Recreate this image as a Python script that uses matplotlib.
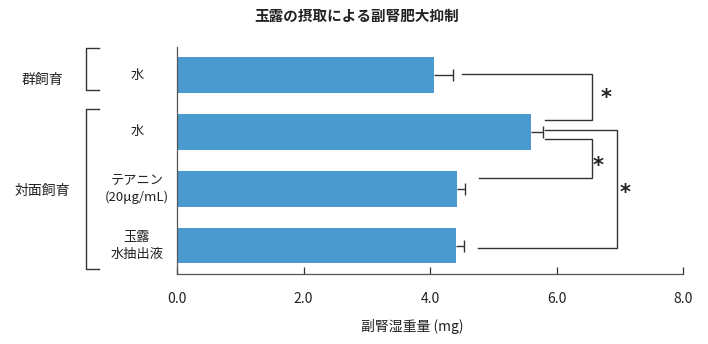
import matplotlib
matplotlib.use('Agg')
import matplotlib.pyplot as plt

plt.rcParams['font.family'] = ['Noto Sans CJK JP', 'DejaVu Sans']

# adrenal wet weight (mg), top to bottom
labels = ['水', '水', 'テアニン\n(20μg/mL)', '玉露\n水抽出液']
values = [4.07, 5.60, 4.42, 4.41]
errors = [0.29, 0.19, 0.13, 0.13]
xticks = [0.0, 2.0, 4.0, 6.0, 8.0]

bar_color = '#4a9ad0'
line_color = '#333333'

fig = plt.figure(figsize=(7.08, 3.44), dpi=100)
ax = fig.add_axes([0.25, 0.2035, 0.7147, 0.66])

ypos = list(range(len(values)))
ax.barh(ypos, values, height=0.63, color=bar_color)

# one-sided error bars with a cap at the end only
ends = [v + e for v, e in zip(values, errors)]
ax.hlines(ypos, values, ends, color=line_color, lw=1.0)
ax.plot(ends, ypos, ls='none', marker='|', ms=8, mew=1.0, color=line_color)

ax.set_xlim(0, 8)
ax.set_ylim(3.5, -0.5)
ax.set_xticks(xticks)
ax.set_xticklabels(['%.1f' % t for t in xticks], fontsize=10)
ax.tick_params(axis='x', direction='in', length=5, width=0.9, pad=13,
               colors=line_color, labelcolor='#222222')
ax.set_yticks([])
for s in ['top', 'right']:
    ax.spines[s].set_visible(False)
for s in ['left', 'bottom']:
    ax.spines[s].set_color('#555555')
    ax.spines[s].set_linewidth(0.9)

ax.set_xlabel('副腎湿重量 (mg)', fontsize=10, color='#222222')
ax.xaxis.set_label_coords((412 - 177) / 506, -0.20)

# significance brackets: (bar a, arm offset a, gap a, bar b, arm offset b, gap b, right x, star x, star y)
brackets = [
    (0, -0.03, 0.15, 1, -0.21, 0.03, 6.56, 6.78, 0.40),
    (1, 0.12, 0.03, 2, -0.19, 0.22, 6.56, 6.66, 1.60),
    (1, -0.04, 0.03, 3, 0.05, 0.22, 6.96, 7.08, 2.08),
]
for a, oa, ga, b, ob, gb, xr, sx, sy in brackets:
    xa = ends[a] + ga
    xb = ends[b] + gb
    ya = ypos[a] + oa
    yb = ypos[b] + ob
    ax.plot([xa, xr, xr, xb], [ya, ya, yb, yb], color=line_color, lw=1.0,
            clip_on=False, solid_joinstyle='miter')
    ax.text(sx, sy, '*', fontsize=15, ha='center', va='center', color='#222222',
            family='DejaVu Sans', fontweight='bold')

# category labels left of the axis
for y, lab in zip(ypos, labels):
    fig.text(137 / 708, 1 - (75 + 57 * y) / 344, lab, fontsize=9.5, ha='center',
             va='center', linespacing=1.45, color='#222222')

# group brackets and labels
groups = [('群飼育', 48, 90, 80), ('対面飼育', 109, 269, 191)]
for name, y0, y1, yl in groups:
    xs = [99 / 708, 86 / 708, 86 / 708, 99 / 708]
    ys = [1 - y0 / 344, 1 - y0 / 344, 1 - y1 / 344, 1 - y1 / 344]
    fig.add_artist(plt.Line2D(xs, ys, color=line_color, lw=1.0, transform=fig.transFigure))
    fig.text(42 / 708, 1 - yl / 344, name, fontsize=10, ha='center', va='center', color='#222222')

fig.text(357 / 708, 1 - 16 / 344, '玉露の摂取による副腎肥大抑制', fontsize=10.5,
         ha='center', va='center', color='#222222', fontweight='bold')

fig.savefig('out.png', dpi=100)
